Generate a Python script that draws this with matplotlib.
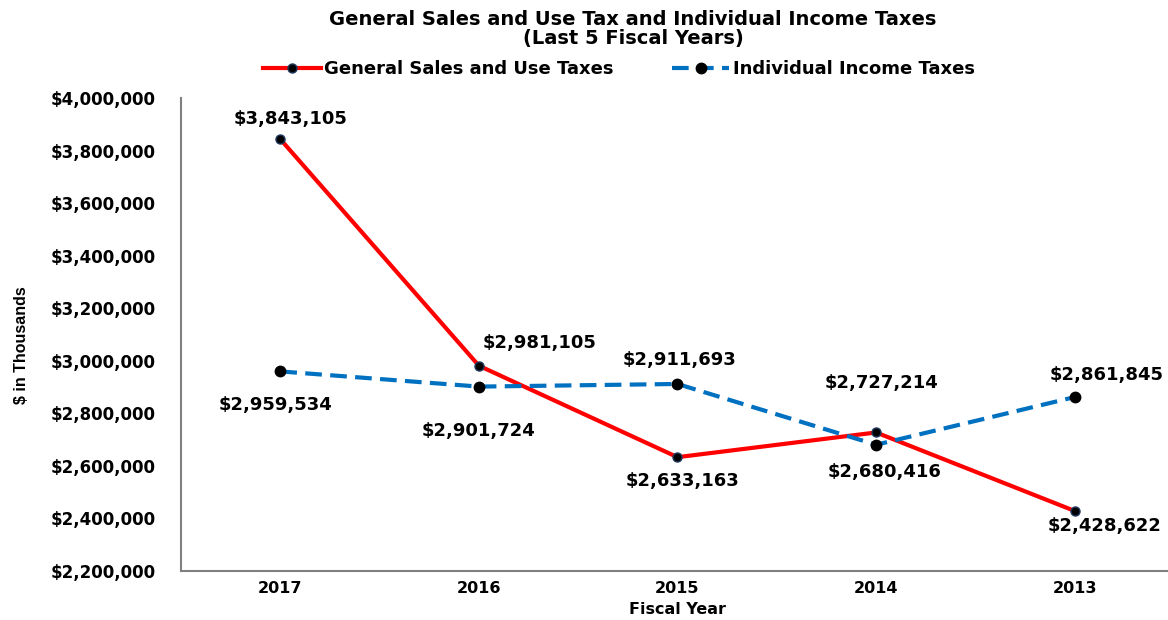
import matplotlib.pyplot as plt
from matplotlib.ticker import FuncFormatter

plt.rcParams['font.family'] = ['DejaVu Sans']
plt.rcParams['font.weight'] = 'bold'

years = ["2017", "2016", "2015", "2014", "2013"]
sales_tax = [3843105, 2981105, 2633163, 2727214, 2428622]
income_tax = [2959534, 2901724, 2911693, 2680416, 2861845]

# label offsets in pixels (x, y)
sales_off = [(10, 20), (61, 23), (5, -24), (5, 49), (30, -15)]
income_off = [(-5, -34), (0, -44), (2, 24), (8, -27), (32, 22)]

fig = plt.figure(figsize=(11.68, 6.2), dpi=100)
ax = fig.add_axes([0.155, 0.079, 0.845, 0.763])

x = list(range(len(years)))
ax.plot(x, sales_tax, color='#FF0000', linewidth=3, marker='o', markersize=6.5,
        markerfacecolor='black', markeredgecolor='#1f3a5f', label="General Sales and Use Taxes", zorder=3)
ax.plot(x, income_tax, color='#0070C0', linewidth=3, linestyle=(0, (4, 2)), marker='o', markersize=7.5,
        markerfacecolor='black', markeredgecolor='black', label="Individual Income Taxes", zorder=3)

for i in x:
    ax.annotate(f"${sales_tax[i]:,}", (i, sales_tax[i]), xytext=sales_off[i], textcoords='offset pixels',
                ha='center', va='center', fontsize=13, fontweight='bold')
    ax.annotate(f"${income_tax[i]:,}", (i, income_tax[i]), xytext=income_off[i], textcoords='offset pixels',
                ha='center', va='center', fontsize=13, fontweight='bold')

ax.set_xlim(-0.5, 4.47)
ax.set_ylim(2200000, 4000000)
ax.set_yticks(range(2200000, 4000001, 200000))
ax.yaxis.set_major_formatter(FuncFormatter(lambda v, p: f"${int(v):,}"))
ax.set_xticks(x)
ax.set_xticklabels(years)
ax.tick_params(axis='x', length=0, labelsize=11.5, pad=7)
ax.tick_params(axis='y', length=0, labelsize=12, pad=18)
for t in ax.get_xticklabels() + ax.get_yticklabels():
    t.set_fontweight('bold')

for s in ['top', 'right']:
    ax.spines[s].set_visible(False)
ax.spines['left'].set_color('#808080')
ax.spines['bottom'].set_color('#808080')
ax.spines['left'].set_linewidth(1.5)
ax.spines['bottom'].set_linewidth(1.5)

fig.text(0.58, 0.017, "Fiscal Year", fontsize=11.5, fontweight='bold', ha='center', va='center')
fig.text(0.018, 0.444, "$ in Thousands", rotation=90, fontsize=11.5, fontweight='bold', ha='center', va='center',
         family=['Liberation Sans Narrow', 'Liberation Sans', 'DejaVu Sans'])

fig.text(0.542, 0.954, "General Sales and Use Tax and Individual Income Taxes\n(Last 5 Fiscal Years)",
         ha='center', va='center', fontsize=14, fontweight='bold', linespacing=1.0)

fig.legend(loc='center', bbox_to_anchor=(0.53, 0.888), ncol=2, frameon=False, fontsize=13,
           handlelength=3.2, columnspacing=3.2, handletextpad=0.2)

plt.savefig("out.png", dpi=100)
